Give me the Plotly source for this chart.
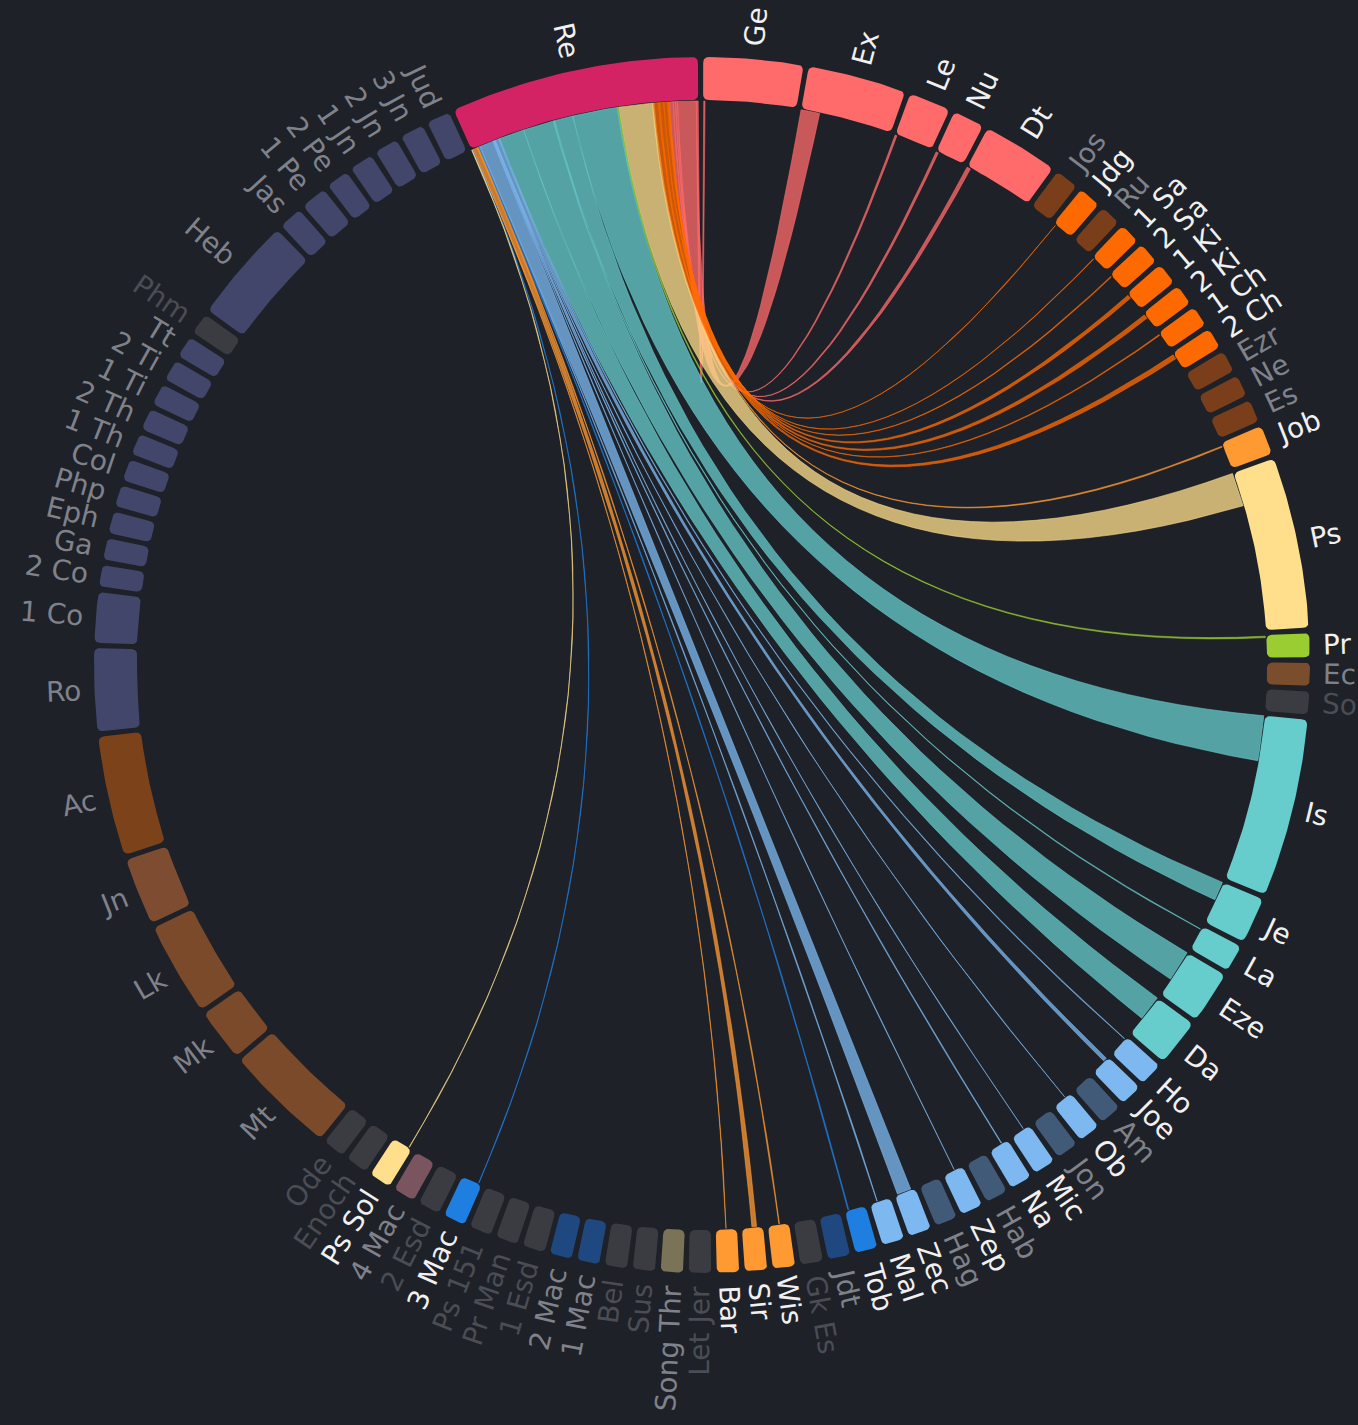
import math
import plotly.graph_objects as go

# ---------------- data ----------------
books = ["Re", "Ge", "Ex", "Le", "Nu", "Dt", "Jos", "Jdg", "Ru", "1 Sa", "2 Sa", "1 Ki", "2 Ki",
         "1 Ch", "2 Ch", "Ezr", "Ne", "Es", "Job", "Ps", "Pr", "Ec", "So", "Is", "Je", "La", "Eze",
         "Da", "Ho", "Joe", "Am", "Ob", "Jon", "Mic", "Na", "Hab", "Zep", "Hag", "Zec", "Mal",
         "Tob", "Jdt", "Gk Es", "Wis", "Sir", "Bar", "Let Jer", "Song Thr", "Sus", "Bel", "1 Mac",
         "2 Mac", "1 Esd", "Pr Man", "Ps 151", "3 Mac", "2 Esd", "4 Mac", "Ps Sol", "Enoch", "Ode",
         "Mt", "Mk", "Lk", "Jn", "Ac", "Ro", "1 Co", "2 Co", "Ga", "Eph", "Php", "Col", "1 Th",
         "2 Th", "1 Ti", "2 Ti", "Tt", "Phm", "Heb", "Jas", "1 Pe", "2 Pe", "1 Jn", "2 Jn", "3 Jn", "Jud"]

arc_size = [23.7, 9.5, 9.4, 4.0, 3.0, 7.2, 2.3, 2.2, 2.0, 2.0, 2.1, 2.1, 2.0,
            2.0, 2.0, 2.1, 2.1, 2.2, 2.8, 16.3, 2.3, 2.2, 2.2, 17.0, 4.4, 2.6, 5.0,
            4.5, 2.3, 2.15, 2.15, 2.15, 2.15, 2.15, 2.15, 2.15, 2.15, 2.15, 2.2, 2.15,
            2.15, 2.15, 2.15, 2.15, 2.15, 2.15, 2.15, 2.15, 2.15, 2.15, 2.15,
            2.15, 2.15, 2.15, 2.15, 2.15, 2.15, 2.15, 2.15, 2.15, 2.15,
            10.6, 5.0, 8.9, 6.4, 11.4, 7.9, 4.8, 2.07, 2.07, 2.07, 2.07, 2.07, 2.07,
            2.07, 2.07, 2.07, 2.07, 2.07, 10.0, 2.3, 2.5, 2.2, 2.3, 2.3, 2.3, 2.3]

# width of each book's link with Re (0 = no link)
link_width = [0, 0.2, 2.0, 0.2, 0.25, 0.4, 0, 0.05, 0, 0.05, 0.1, 0.4, 0.45,
              0.1, 0.5, 0, 0, 0, 0.15, 3.6, 0.15, 0, 0, 4.8, 2.0, 0.1, 3.3,
              2.7, 0.1, 0.4, 0, 0.05, 0, 0.05, 0.1, 0, 0.05, 0, 1.5, 0.1,
              0.1, 0, 0, 0.1, 0.5, 0.05, 0, 0, 0, 0, 0,
              0, 0, 0, 0, 0.05, 0, 0, 0.05, 0, 0,
              0, 0, 0, 0, 0, 0, 0, 0, 0, 0, 0, 0, 0,
              0, 0, 0, 0, 0, 0, 0, 0, 0, 0, 0, 0, 0]

# where inside the book's arc the link lands (fraction of the arc)
link_at = [0, 0, 0, 0, 0, 0, 0, 0.1, 0, 0.1, 0.1, 0.1, 0.1,
           0.1, 0.1, 0, 0, 0, 0.1, 0, 0.05, 0, 0, 0, 0, 0.1, 0,
           0, 0.1, 0.1, 0, 0.3, 0, 0.3, 0.3, 0, 0.4, 0, 0.2, 0.6,
           0.8, 0, 0, 0.43, 0.3, 0.5, 0, 0, 0, 0, 0,
           0, 0, 0, 0, 0.15, 0, 0, 0.15, 0, 0,
           0, 0, 0, 0, 0, 0, 0, 0, 0, 0, 0, 0, 0,
           0, 0, 0, 0, 0, 0, 0, 0, 0, 0, 0, 0, 0]

book_color = ["#d42365", "#ff6b6b", "#ff6b6b", "#ff6b6b", "#ff6b6b", "#ff6b6b", "#7a3e1b", "#ff6a00",
              "#7a3e1b", "#ff6a00", "#ff6a00", "#ff6a00", "#ff6a00", "#ff6a00", "#ff6a00", "#7a3e1b",
              "#7a3e1b", "#7a3e1b", "#ff9a33", "#ffdf8c", "#9acd32", "#7a4e2c", "#3a3c42", "#66cccc",
              "#66cccc", "#66cccc", "#66cccc", "#66cccc", "#7db9f0", "#7db9f0", "#405a78", "#7db9f0",
              "#405a78", "#7db9f0", "#7db9f0", "#405a78", "#7db9f0", "#405a78", "#7db9f0", "#7db9f0",
              "#1f7fe0", "#1f4780", "#3a3c42", "#ff9a33", "#ff9a33", "#ff9a33", "#3a3c42", "#7a7357",
              "#3a3c42", "#3a3c42", "#1f4780", "#1f4780", "#3a3c42", "#3a3c42", "#3a3c42", "#1f7fe0",
              "#3a3c42", "#7a5560", "#ffdf8c", "#3a3c42", "#3a3c42", "#7a4a2b", "#7a4a2b", "#7a4a2b",
              "#7e4d31", "#7c4219", "#41466a", "#41466a", "#41466a", "#41466a", "#41466a", "#41466a",
              "#41466a", "#41466a", "#41466a", "#41466a", "#41466a", "#41466a", "#3a3c42", "#41466a",
              "#41466a", "#41466a", "#41466a", "#41466a", "#41466a", "#41466a", "#41466a"]

# label tone: w = linked, m = unlinked, d = faint
label_tone = ["w", "w", "w", "w", "w", "w", "m", "w", "m", "w", "w", "w", "w",
              "w", "w", "m", "m", "m", "w", "w", "w", "m", "d", "w", "w", "w", "w",
              "w", "w", "w", "m", "w", "m", "w", "w", "m", "w", "m", "w", "w",
              "w", "m", "d", "w", "w", "w", "d", "m", "d", "d", "m",
              "m", "d", "d", "d", "w", "d", "m", "w", "d", "d",
              "m", "m", "m", "m", "m", "m", "m", "m", "m", "m", "m", "m", "m",
              "m", "m", "m", "m", "d", "m", "m", "m", "m", "m", "m", "m", "m"]

# ---------------- layout constants ----------------
W, H = 1358, 1425
CX, CY = 702, 665
R_OUT, R_IN = 608, 565
R_CH = R_IN - 1
GAP = 0.5
START = 335.9
CORNER = 6
BG = "#1e2128"
TONE = {"w": "#f0f0f0", "m": "#7f828a", "d": "#4a4d54"}
FONT = "DejaVu Sans"
FS = 28


def polar(r, deg):
    a = math.radians(deg)
    return (r * math.sin(a), r * math.cos(a))


def arc_pts(r, d0, d1, n=None):
    if n is None:
        n = max(4, int(abs(d1 - d0) * 2) + 2)
    return [polar(r, d0 + (d1 - d0) * i / (n - 1)) for i in range(n)]


def qbez(p0, c, p2, n=8):
    out = []
    for i in range(n):
        t = i / (n - 1)
        out.append(((1 - t) ** 2 * p0[0] + 2 * (1 - t) * t * c[0] + t ** 2 * p2[0],
                    (1 - t) ** 2 * p0[1] + 2 * (1 - t) * t * c[1] + t ** 2 * p2[1]))
    return out


def box(d0, d1, r0, r1, rc):
    rc = min(rc, math.radians(d1 - d0) * r0 / 2 * 0.95, (r1 - r0) / 2)
    a1 = math.degrees(rc / r1)
    a0 = math.degrees(rc / r0)
    p = []
    p += arc_pts(r1, d0 + a1, d1 - a1)
    p += qbez(polar(r1, d1 - a1), polar(r1, d1), polar(r1 - rc, d1))
    p += qbez(polar(r0 + rc, d1), polar(r0, d1), polar(r0, d1 - a0))
    p += arc_pts(r0, d1 - a0, d0 + a0)
    p += qbez(polar(r0, d0 + a0), polar(r0, d0), polar(r0 + rc, d0))
    p += qbez(polar(r1 - rc, d0), polar(r1, d0), polar(r1, d0 + a1))
    return p


def ribbon(s0, s1, t0, t1, r):
    p = []
    p += arc_pts(r, s0, s1)
    p += qbez(polar(r, s1), (0, 0), polar(r, t0), 40)
    p += arc_pts(r, t0, t1)
    p += qbez(polar(r, t1), (0, 0), polar(r, s0), 40)
    return p


def rgba(hx, a):
    hx = hx.lstrip("#")
    return "rgba(%d,%d,%d,%.3f)" % (int(hx[0:2], 16), int(hx[2:4], 16), int(hx[4:6], 16), a)


# DejaVu Sans advance widths (em)
CW = {" ": 0.318, "A": 0.684, "B": 0.686, "C": 0.698, "D": 0.770, "E": 0.632, "G": 0.775,
      "H": 0.752, "I": 0.295, "J": 0.295, "K": 0.656, "L": 0.557, "M": 0.863, "N": 0.748,
      "O": 0.787, "P": 0.603, "R": 0.695, "S": 0.635, "T": 0.611, "Z": 0.685,
      "a": 0.613, "b": 0.635, "c": 0.550, "d": 0.635, "e": 0.615, "g": 0.635, "h": 0.634,
      "i": 0.278, "j": 0.278, "k": 0.579, "l": 0.278, "m": 0.974, "n": 0.634, "o": 0.612,
      "p": 0.635, "r": 0.411, "s": 0.521, "t": 0.392, "u": 0.634, "x": 0.592, "z": 0.525}


def text_w(s):
    w = 0
    for ch in s:
        if ch in CW:
            w += CW[ch]
        elif ch.isdigit():
            w += 0.636
        else:
            w += 0.62
    return w * FS


# ---------------- angular layout ----------------
n = len(books)
scale = (360 - n * GAP) / sum(arc_size)
spans = []
a = START
for s in arc_size:
    e = a + s * scale
    spans.append((a, e))
    a = e + GAP

fig = go.Figure()

# chords: sub-arcs on Re, nearest target at Re's clockwise end
re0, re1 = spans[0]
tot = sum(link_width)
k = (re1 - re0) / tot
cur = re1
for i in range(1, n):
    w = link_width[i]
    if w <= 0:
        continue
    s1 = cur
    s0 = cur - w * k
    cur = s0
    b0, b1 = spans[i]
    t0 = b0 + (b1 - b0) * link_at[i]
    t1 = t0 + w * k
    pts = ribbon(s0, s1, t0, t1, R_CH)
    col = book_color[i]
    fig.add_trace(go.Scatter(
        x=[p[0] for p in pts], y=[p[1] for p in pts], mode="lines", fill="toself",
        fillcolor=rgba(col, 0.76), line=dict(color=rgba(col, 0.7), width=0.8),
        hoverinfo="skip", showlegend=False))

# segment boxes
for i in range(n):
    d0, d1 = spans[i]
    pts = box(d0, d1, R_IN, R_OUT, CORNER)
    fig.add_trace(go.Scatter(
        x=[p[0] for p in pts], y=[p[1] for p in pts], mode="lines", fill="toself",
        fillcolor=book_color[i], line=dict(width=0, color=book_color[i]),
        hoverinfo="text", text=books[i], showlegend=False))

# labels
annotations = []
for i in range(n):
    d0, d1 = spans[i]
    mid = (d0 + d1) / 2
    m = mid % 360
    w = text_w(books[i])
    r = R_OUT + 13 + w / 2
    x, y = polar(r, m)
    ang = m - 90 if m < 180 else m - 270
    annotations.append(dict(
        x=x, y=y, xref="x", yref="y", text=books[i], showarrow=False,
        xanchor="center", yanchor="middle", textangle=ang, borderpad=0,
        font=dict(family=FONT, size=FS, color=TONE[label_tone[i]])))

fig.update_layout(
    width=W, height=H, margin=dict(l=0, r=0, t=0, b=0),
    paper_bgcolor=BG, plot_bgcolor=BG, annotations=annotations,
    xaxis=dict(visible=False, range=[-CX, W - CX], fixedrange=True),
    yaxis=dict(visible=False, range=[CY - H, CY], fixedrange=True),
    showlegend=False)

page_js = ("document.body.style.margin='0';document.body.style.padding='0';"
           "document.body.style.background='" + BG + "';"
           "document.documentElement.style.background='" + BG + "';"
           "document.documentElement.style.overflow='hidden';")

fig.write_html("out.html", post_script=page_js, config={"displayModeBar": False})
